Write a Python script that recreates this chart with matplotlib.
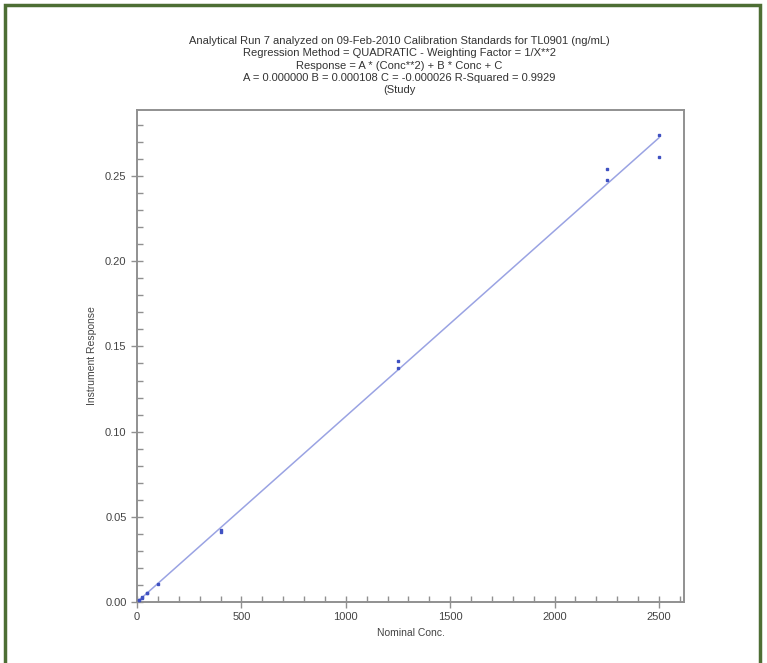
import matplotlib
matplotlib.use("Agg")
from matplotlib import pyplot as plt
from matplotlib.ticker import MultipleLocator
from matplotlib.patches import Rectangle
import numpy as np

# calibration standards
conc = [10, 10, 25, 25, 50, 50, 100, 400, 400, 1250, 1250, 2250, 2250, 2500, 2500]
resp = [0.0009, 0.0012, 0.0025, 0.0028, 0.0052, 0.0055, 0.0105,
        0.0410, 0.0425, 0.1376, 0.1412, 0.2480, 0.2540, 0.2610, 0.2740]

# regression coefficients from the header
coef_A = 0.0
coef_B = 0.000109
coef_C = -0.000026

title_lines = [
    "Analytical Run 7 analyzed on 09-Feb-2010 Calibration Standards for TL0901 (ng/mL)",
    "Regression Method = QUADRATIC - Weighting Factor = 1/X**2",
    "Response = A * (Conc**2) + B * Conc + C",
    "A = 0.000000 B = 0.000108 C = -0.000026 R-Squared = 0.9929",
    "(Study",
]

plt.rcParams['font.family'] = ['Liberation Sans', 'DejaVu Sans']
fig = plt.figure(figsize=(7.67, 6.63), dpi=100)

# green frame round the page
fig.patches.append(Rectangle((5 / 767, -0.05), 755 / 767, 1 - 5 / 663 + 0.05,
                             transform=fig.transFigure, fill=False,
                             edgecolor='#4d6e34', linewidth=2.5))

ax = fig.add_axes([137 / 767, 1 - 602 / 663, 547 / 767, 492 / 663])

xs = np.linspace(0, 2500, 200)
ax.plot(xs, coef_A * xs ** 2 + coef_B * xs + coef_C, color='#9aa3e3', linewidth=1.1, zorder=2)
ax.plot(conc, resp, 's', color='#3f51c2', markersize=2, linestyle='none', zorder=3)

ax.set_xlim(0, 2620)
ax.set_ylim(0, 0.2888)
ax.xaxis.set_major_locator(MultipleLocator(500))
ax.xaxis.set_minor_locator(MultipleLocator(100))
ax.yaxis.set_major_locator(MultipleLocator(0.05))
ax.yaxis.set_minor_locator(MultipleLocator(0.01))
ax.yaxis.set_major_formatter(plt.FuncFormatter(lambda v, p: f"{v:.2f}"))

for s in ax.spines.values():
    s.set_color('#909090')
    s.set_linewidth(1.4)
ax.tick_params(which='major', direction='inout', length=8, width=1, color='#909090',
               labelsize=8, labelcolor='#444444')
ax.tick_params(which='minor', direction='in', length=4, width=1, color='#909090')

ax.set_xlabel("Nominal Conc.", fontsize=7.5, color='#444444', labelpad=4)
ax.set_ylabel("Instrument Response", fontsize=7.5, color='#444444', labelpad=6)

for i, line in enumerate(title_lines):
    fig.text(399 / 767, 1 - (41 + 12.3 * i) / 663, line, ha='center', va='center',
             fontsize=8, color='#333333')

fig.savefig("out.png", dpi=100)
